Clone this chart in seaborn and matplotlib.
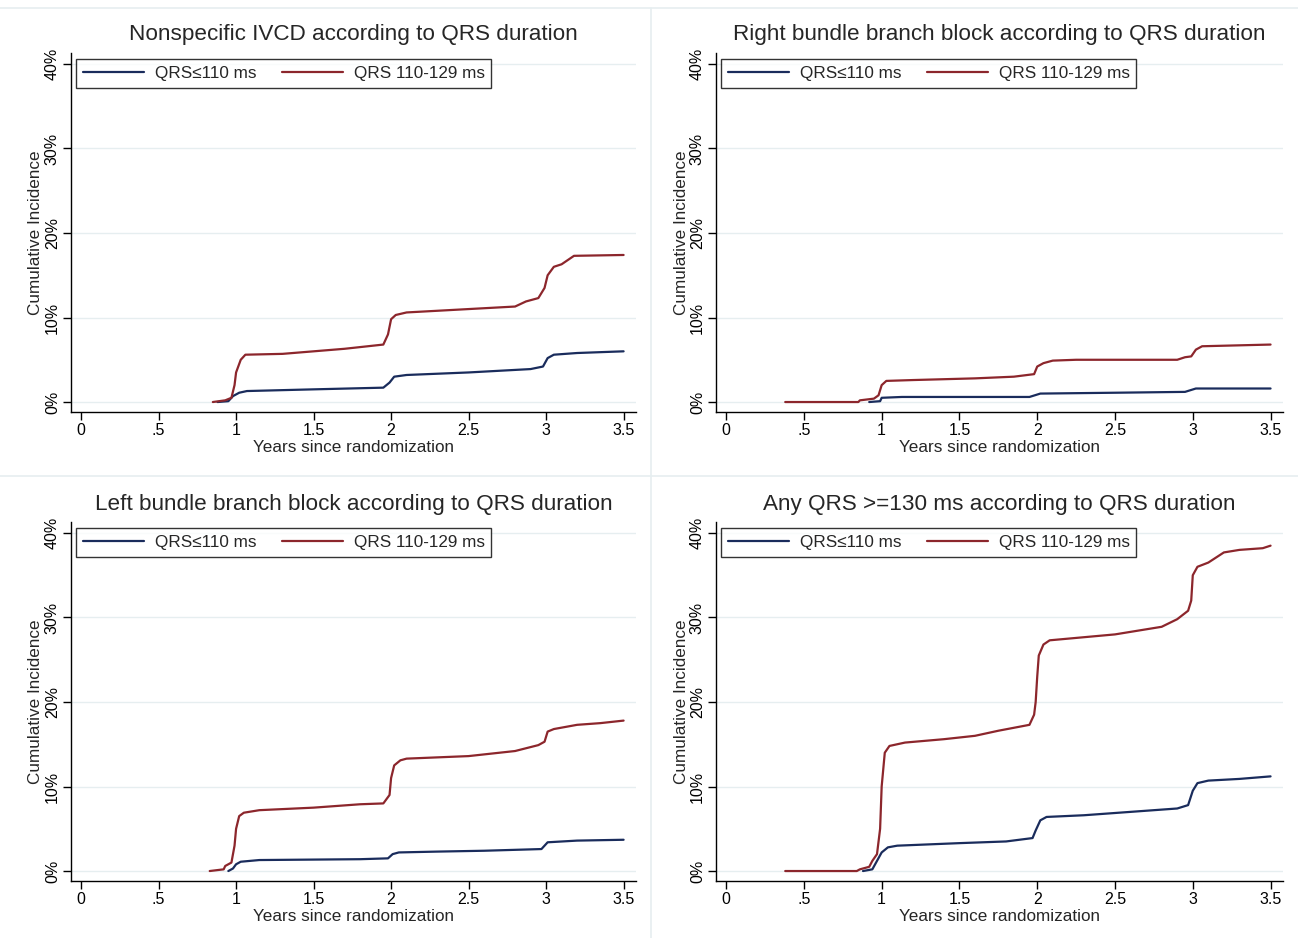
import numpy as np
import pandas as pd
import matplotlib
matplotlib.use("Agg")
import matplotlib.pyplot as plt
import seaborn as sns

# curve breakpoints (years, cumulative incidence %)
ivcd_low_t = [0.88, 0.95, 0.98, 1.02, 1.07, 1.5, 1.95, 1.99, 2.02, 2.1, 2.5, 2.9, 2.98, 3.01, 3.05, 3.2, 3.5]
ivcd_low_y = [0.0, 0.1, 0.7, 1.1, 1.3, 1.5, 1.7, 2.3, 3.0, 3.2, 3.5, 3.9, 4.2, 5.2, 5.6, 5.8, 6.0]
ivcd_mid_t = [0.85, 0.93, 0.97, 0.99, 1.0, 1.03, 1.06, 1.3, 1.5, 1.7, 1.95, 1.98, 2.0, 2.03, 2.1, 2.3, 2.5,
              2.8, 2.87, 2.95, 2.99, 3.01, 3.05, 3.1, 3.18, 3.5]
ivcd_mid_y = [0.0, 0.2, 0.5, 2.0, 3.5, 5.0, 5.6, 5.7, 6.0, 6.3, 6.8, 8.0, 9.8, 10.3, 10.6, 10.8, 11.0,
              11.3, 11.9, 12.3, 13.5, 15.0, 16.0, 16.3, 17.3, 17.4]

rbbb_low_t = [0.92, 0.99, 1.0, 1.13, 1.95, 2.02, 2.5, 2.95, 3.02, 3.5]
rbbb_low_y = [0.0, 0.1, 0.5, 0.6, 0.6, 1.0, 1.1, 1.2, 1.6, 1.6]
rbbb_mid_t = [0.38, 0.85, 0.86, 0.95, 0.98, 1.0, 1.03, 1.2, 1.6, 1.85, 1.98, 2.0, 2.04, 2.1, 2.25,
              2.9, 2.95, 2.99, 3.02, 3.06, 3.5]
rbbb_mid_y = [0.0, 0.0, 0.2, 0.4, 0.8, 2.0, 2.5, 2.6, 2.8, 3.0, 3.3, 4.2, 4.6, 4.9, 5.0,
              5.0, 5.3, 5.4, 6.2, 6.6, 6.8]

lbbb_low_t = [0.95, 0.98, 1.0, 1.03, 1.15, 1.8, 1.98, 2.01, 2.05, 2.3, 2.6, 2.97, 3.01, 3.2, 3.5]
lbbb_low_y = [0.0, 0.3, 0.8, 1.1, 1.3, 1.4, 1.5, 2.0, 2.2, 2.3, 2.4, 2.6, 3.4, 3.6, 3.7]
lbbb_mid_t = [0.83, 0.92, 0.93, 0.97, 0.99, 1.0, 1.02, 1.05, 1.15, 1.5, 1.8, 1.95, 1.99, 2.0, 2.02,
              2.06, 2.1, 2.5, 2.8, 2.95, 2.99, 3.01, 3.05, 3.2, 3.35, 3.5]
lbbb_mid_y = [0.0, 0.2, 0.6, 1.0, 3.0, 5.0, 6.5, 6.9, 7.2, 7.5, 7.9, 8.0, 9.0, 11.0, 12.5,
              13.1, 13.3, 13.6, 14.2, 14.9, 15.3, 16.5, 16.8, 17.3, 17.5, 17.8]

any_low_t = [0.88, 0.94, 0.97, 1.0, 1.04, 1.1, 1.5, 1.8, 1.97, 1.99, 2.02, 2.06, 2.3, 2.6, 2.9,
             2.97, 3.0, 3.03, 3.1, 3.3, 3.5]
any_low_y = [0.0, 0.2, 1.2, 2.2, 2.8, 3.0, 3.3, 3.5, 3.9, 4.8, 6.0, 6.4, 6.6, 7.0, 7.4,
             7.8, 9.5, 10.4, 10.7, 10.9, 11.2]
any_mid_t = [0.38, 0.84, 0.86, 0.92, 0.94, 0.97, 0.99, 1.0, 1.01, 1.02, 1.05, 1.15, 1.4, 1.6, 1.75,
             1.95, 1.98, 1.99, 2.0, 2.01, 2.04, 2.08, 2.2, 2.5, 2.8, 2.9, 2.97, 2.99, 3.0, 3.03,
             3.1, 3.2, 3.3, 3.45, 3.5]
any_mid_y = [0.0, 0.0, 0.2, 0.5, 1.2, 2.0, 5.0, 10.0, 12.0, 14.0, 14.8, 15.2, 15.6, 16.0, 16.6,
             17.3, 18.5, 20.0, 23.0, 25.5, 26.8, 27.3, 27.5, 28.0, 28.9, 29.8, 30.8, 32.0, 35.0, 36.0,
             36.5, 37.7, 38.0, 38.2, 38.5]

titles = [
    "Nonspecific IVCD according to QRS duration",
    "Right bundle branch block according to QRS duration",
    "Left bundle branch block according to QRS duration",
    "Any QRS >=130 ms according to QRS duration",
]
groups = ["QRS\u2264110 ms", "QRS 110-129 ms"]
x_ticks = [0, 0.5, 1, 1.5, 2, 2.5, 3, 3.5]
x_tick_labels = ["0", ".5", "1", "1.5", "2", "2.5", "3", "3.5"]
y_ticks = [0, 10, 20, 30, 40]
y_tick_labels = ["0%", "10%", "20%", "30%", "40%"]

curves = [
    (ivcd_low_t, ivcd_low_y, ivcd_mid_t, ivcd_mid_y),
    (rbbb_low_t, rbbb_low_y, rbbb_mid_t, rbbb_mid_y),
    (lbbb_low_t, lbbb_low_y, lbbb_mid_t, lbbb_mid_y),
    (any_low_t, any_low_y, any_mid_t, any_mid_y),
]

sns.set_theme(style="white")
plt.rcParams["font.family"] = ["Liberation Sans", "DejaVu Sans"]

palette = {groups[0]: "#1a2c5c", groups[1]: "#8c262c"}
grid_col = "#e6eef0"

fig = plt.figure(figsize=(12.98, 9.38), dpi=100)
W, H = 1298, 938

# light frames between the combined panels
fig.add_artist(plt.Line2D([0, 1], [1 - 8 / H, 1 - 8 / H], color=grid_col, lw=1.2))
fig.add_artist(plt.Line2D([0, 1], [1 - 476 / H, 1 - 476 / H], color=grid_col, lw=1.2))
fig.add_artist(plt.Line2D([651 / W, 651 / W], [0, 1 - 8 / H], color=grid_col, lw=1.2))

lefts = [71, 716]
tops = [53, 522]
widths = [565, 567]
height = 359

for i, (title, (lt, ly, mt, my)) in enumerate(zip(titles, curves)):
    col = i % 2
    row = i // 2
    ax = fig.add_axes([lefts[col] / W, 1 - (tops[row] + height) / H, widths[col] / W, height / H])

    df = pd.concat([
        pd.DataFrame({"t": lt, "ci": ly, "grp": groups[0]}),
        pd.DataFrame({"t": mt, "ci": my, "grp": groups[1]}),
    ])
    sns.lineplot(data=df, x="t", y="ci", hue="grp", palette=palette, sort=False,
                 estimator=None, units="grp", lw=1.6, ax=ax, legend=False)

    ax.set_xlim(-0.065, 3.58)
    ax.set_ylim(-1.18, 41.3)
    ax.set_xticks(x_ticks)
    ax.set_xticklabels(x_tick_labels)
    ax.set_yticks(y_ticks)
    ax.set_yticklabels(y_tick_labels, rotation=90, va="center")
    for y in y_ticks:
        ax.axhline(y, color=grid_col, lw=1.0, zorder=0)

    for s in ["top", "right"]:
        ax.spines[s].set_visible(False)
    for s in ["left", "bottom"]:
        ax.spines[s].set_color("black")
        ax.spines[s].set_linewidth(1.0)
    ax.tick_params(axis="both", direction="out", length=6, width=1.0, color="black",
                   labelsize=11.5, pad=2, bottom=True, left=True, labelcolor="black")

    ax.set_xlabel("Years since randomization", fontsize=12.3, labelpad=1)
    ax.set_ylabel("Cumulative Incidence", fontsize=12.3, labelpad=1)
    ax.set_title(title, fontsize=16.2, pad=9)

    handles = [plt.Line2D([], [], color=palette[g], lw=1.6) for g in groups]
    leg = ax.legend(handles, groups, ncol=2, loc="upper left", bbox_to_anchor=(0.009, 0.982),
                    borderaxespad=0, fontsize=12.3, frameon=True, fancybox=False,
                    handlelength=3.6, handletextpad=0.6, columnspacing=1.5,
                    borderpad=0.4)
    leg.get_frame().set_edgecolor("black")
    leg.get_frame().set_linewidth(1.0)

fig.savefig("out.png", dpi=100)
